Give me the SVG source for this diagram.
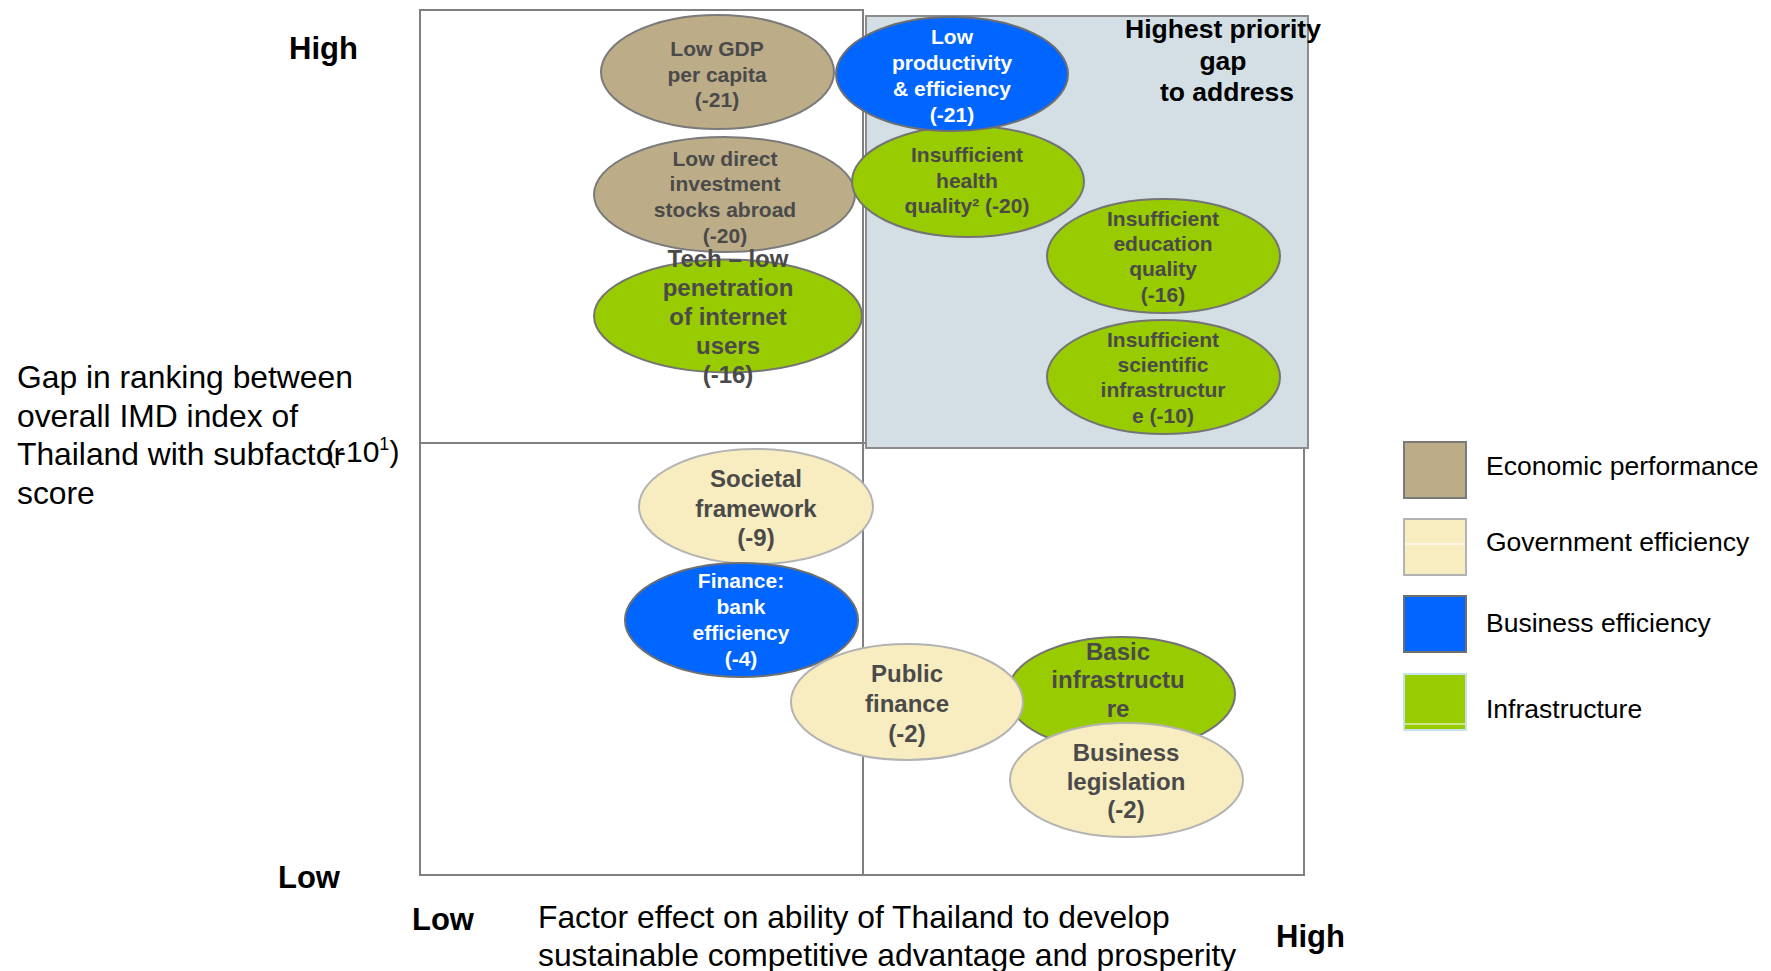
<svg xmlns="http://www.w3.org/2000/svg" width="1771" height="971" viewBox="0 0 1771 971">
  <style>
    .quad { fill: #ffffff; stroke: #808080; stroke-width: 2; }
    .hot { fill: #d3dfe5; stroke: #8c8c8c; stroke-width: 2; }
    .econ { fill: #bcad88; stroke: #7a7a7a; stroke-width: 2; }
    .gov { fill: #f8edc0; stroke: #b3b3b3; stroke-width: 2; }
    .biz { fill: #0066ff; stroke: #6f6f6f; stroke-width: 2; }
    .infra { fill: #99cc00; stroke: #747474; stroke-width: 2; }
    text { font-family: "Liberation Sans", Arial, sans-serif; }
    .lbl { font-weight: bold; font-size: 21px; fill: #4a4a4a; text-anchor: middle; }
    .lbl-lg { font-weight: bold; font-size: 24px; fill: #4a4a4a; text-anchor: middle; }
    .lbl-w { font-weight: bold; font-size: 21px; fill: #ffffff; text-anchor: middle; }
    .axis-end { font-weight: bold; font-size: 31px; fill: #000000; }
    .axis-title { font-size: 31.8px; fill: #000000; }
    .legend { font-size: 26.5px; fill: #000000; }
    .hot-title { font-weight: bold; font-size: 26.5px; fill: #000000; text-anchor: middle; }
  </style>

  <rect width="1771" height="971" fill="#ffffff"/>

  <!-- quadrant frame -->
  <g id="quadrants">
    <rect class="quad" x="420" y="10" width="443" height="433"/>
    <rect class="quad" x="420" y="443" width="443" height="432"/>
    <rect class="quad" x="863" y="443" width="441" height="432"/>
    <rect class="hot" x="866" y="16" width="442" height="432"/>
  </g>

  <g id="priority-label">
    <text class="hot-title" x="1223" y="38">Highest priority</text>
    <text class="hot-title" x="1223" y="70">gap</text>
    <text class="hot-title" x="1227" y="101">to address</text>
  </g>

  <!-- connectors: none in this chart -->
  <g id="connectors"></g>

  <!-- upper-left quadrant -->
  <g id="node-low-gdp">
    <ellipse class="econ" cx="717.5" cy="72" rx="116.5" ry="57"/>
    <text class="lbl" x="717" y="56">Low GDP</text>
    <text class="lbl" x="717" y="81.7">per capita</text>
    <text class="lbl" x="717" y="107.4">(-21)</text>
  </g>
  <g id="node-low-direct-investment">
    <ellipse class="econ" cx="724.5" cy="194.5" rx="130.5" ry="57.5"/>
    <text class="lbl" x="725" y="165.7">Low direct</text>
    <text class="lbl" x="725" y="191.4">investment</text>
    <text class="lbl" x="725" y="217.1">stocks abroad</text>
    <text class="lbl" x="725" y="242.8">(-20)</text>
  </g>
  <g id="node-tech-internet">
    <ellipse class="infra" cx="728" cy="316" rx="134" ry="56.5"/>
    <text class="lbl-lg" x="728" y="266.7">Tech – low</text>
    <text class="lbl-lg" x="728" y="295.7">penetration</text>
    <text class="lbl-lg" x="728" y="324.7">of internet</text>
    <text class="lbl-lg" x="728" y="353.7">users</text>
    <text class="lbl-lg" x="728" y="382.7">(-16)</text>
  </g>

  <!-- upper-right quadrant -->
  <g id="node-health-quality">
    <ellipse class="infra" cx="968" cy="181.5" rx="116" ry="55.5"/>
    <text class="lbl" x="967" y="162.3">Insufficient</text>
    <text class="lbl" x="967" y="187.7">health</text>
    <text class="lbl" x="967" y="213">quality² (-20)</text>
  </g>
  <g id="node-low-productivity">
    <ellipse class="biz" cx="952" cy="74" rx="116" ry="57"/>
    <text class="lbl-w" x="952" y="44">Low</text>
    <text class="lbl-w" x="952" y="69.9">productivity</text>
    <text class="lbl-w" x="952" y="95.8">&amp; efficiency</text>
    <text class="lbl-w" x="952" y="121.7">(-21)</text>
  </g>
  <g id="node-education-quality">
    <ellipse class="infra" cx="1163.5" cy="256" rx="116.5" ry="57"/>
    <text class="lbl" x="1163" y="225.7">Insufficient</text>
    <text class="lbl" x="1163" y="251">education</text>
    <text class="lbl" x="1163" y="276.3">quality</text>
    <text class="lbl" x="1163" y="301.7">(-16)</text>
  </g>
  <g id="node-scientific-infrastructure">
    <ellipse class="infra" cx="1163.5" cy="377" rx="116.5" ry="57"/>
    <text class="lbl" x="1163" y="346.7">Insufficient</text>
    <text class="lbl" x="1163" y="372">scientific</text>
    <text class="lbl" x="1163" y="397.3">infrastructur</text>
    <text class="lbl" x="1163" y="422.7">e (-10)</text>
  </g>

  <!-- lower quadrants -->
  <g id="node-societal-framework">
    <ellipse class="gov" cx="756" cy="506.5" rx="117" ry="57.5"/>
    <text class="lbl-lg" x="756" y="487.3">Societal</text>
    <text class="lbl-lg" x="756" y="516.6">framework</text>
    <text class="lbl-lg" x="756" y="546">(-9)</text>
  </g>
  <g id="node-bank-efficiency">
    <ellipse class="biz" cx="741.5" cy="620" rx="116.5" ry="57"/>
    <text class="lbl-w" x="741" y="588.3">Finance:</text>
    <text class="lbl-w" x="741" y="614.2">bank</text>
    <text class="lbl-w" x="741" y="640.1">efficiency</text>
    <text class="lbl-w" x="741" y="666">(-4)</text>
  </g>
  <g id="node-basic-infrastructure">
    <ellipse class="infra" cx="1121" cy="694" rx="114" ry="57"/>
    <text class="lbl-lg" x="1118" y="659.5">Basic</text>
    <text class="lbl-lg" x="1118" y="688">infrastructu</text>
    <text class="lbl-lg" x="1118" y="716.7">re</text>
  </g>
  <g id="node-public-finance">
    <ellipse class="gov" cx="907" cy="702" rx="116" ry="58"/>
    <text class="lbl-lg" x="907" y="682.3">Public</text>
    <text class="lbl-lg" x="907" y="712">finance</text>
    <text class="lbl-lg" x="907" y="741.7">(-2)</text>
  </g>
  <g id="node-business-legislation">
    <ellipse class="gov" cx="1126.5" cy="780" rx="116.5" ry="57"/>
    <text class="lbl-lg" x="1126" y="761">Business</text>
    <text class="lbl-lg" x="1126" y="789.6">legislation</text>
    <text class="lbl-lg" x="1126" y="818.3">(-2)</text>
  </g>

  <!-- vertical axis -->
  <g id="y-axis">
    <text class="axis-end" x="289" y="59">High</text>
    <text class="axis-end" x="278" y="888">Low</text>
    <text class="axis-title" x="17" y="388">Gap in ranking between</text>
    <text class="axis-title" x="17" y="426.5">overall IMD index of</text>
    <text class="axis-title" x="17" y="465">Thailand with subfactor</text>
    <text class="axis-title" x="17" y="503.5">score</text>
    <text x="326" y="462" font-size="30" fill="#000000">(-10<tspan font-size="18" dy="-12">1</tspan><tspan dy="12">)</tspan></text>
  </g>

  <!-- horizontal axis -->
  <g id="x-axis">
    <text class="axis-end" x="412" y="930">Low</text>
    <text class="axis-end" x="1276" y="947">High</text>
    <text class="axis-title" x="538" y="928">Factor effect on ability of Thailand to develop</text>
    <text class="axis-title" x="538" y="966">sustainable competitive advantage and prosperity</text>
  </g>

  <!-- legend -->
  <g id="legend">
    <g id="legend-economic">
      <rect class="econ" x="1404" y="442" width="62" height="56"/>
      <text class="legend" x="1486" y="475">Economic performance</text>
    </g>
    <g id="legend-government">
      <rect class="gov" x="1404" y="519" width="62" height="56"/>
      <line x1="1405" y1="544" x2="1465" y2="544" stroke="#ffffff" stroke-width="1"/>
      <text class="legend" x="1486" y="551">Government efficiency</text>
    </g>
    <g id="legend-business">
      <rect class="biz" x="1404" y="596" width="62" height="56" stroke="#a6a6a6"/>
      <text class="legend" x="1486" y="632">Business efficiency</text>
    </g>
    <g id="legend-infrastructure">
      <rect x="1404" y="674" width="62" height="56" fill="#99cc00" stroke="#c6e3ea" stroke-width="2"/>
      <line x1="1405" y1="724" x2="1465" y2="724" stroke="#ffffff" stroke-width="1"/>
      <text class="legend" x="1486" y="718">Infrastructure</text>
    </g>
  </g>
</svg>
